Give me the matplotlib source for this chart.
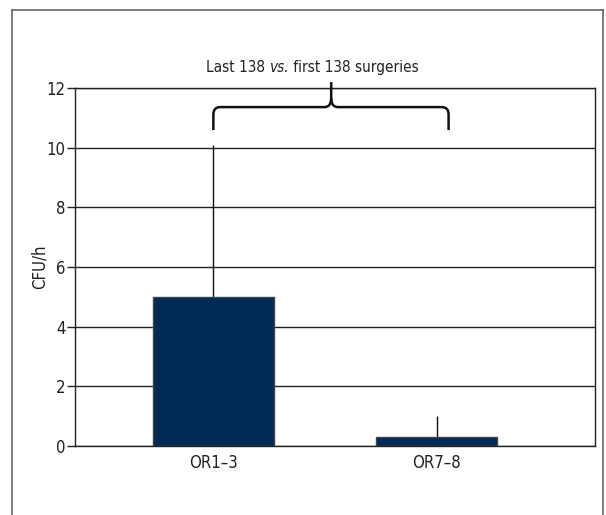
import matplotlib
matplotlib.use('Agg')
import matplotlib.pyplot as plt
from matplotlib import font_manager
from matplotlib.path import Path
from matplotlib.patches import PathPatch
from matplotlib.lines import Line2D

names = {f.name for f in font_manager.fontManager.ttflist}
cond = [n for n in ['Liberation Sans Narrow', 'DejaVu Sans Condensed'] if n in names]
plt.rcParams['font.family'] = cond + ['DejaVu Sans']
plt.rcParams['font.stretch'] = 'condensed'

# data
groups = ['OR1\u20133', 'OR7\u20138']
cfu = [5.0, 0.3]
err_upper = [5.1, 0.7]
yticks = [0, 2, 4, 6, 8, 10, 12]

fig = plt.figure(figsize=(6.06, 5.15), dpi=100)
ax = fig.add_axes([75/606, 1 - 446/515, 520/606, 358/515])

x = [0, 1]
ax.set_axisbelow(True)
ax.grid(axis='y', color='#222222', linewidth=1)
ax.bar(x, cfu, width=0.545, color='#022a57', edgecolor='#444444', linewidth=1, zorder=3)
ax.errorbar(x, cfu, yerr=[[0, 0], err_upper], fmt='none', ecolor='#111111',
            elinewidth=1, capsize=0, zorder=2)

ax.set_xlim(-0.62, 1.71)
ax.set_ylim(0, 12)
ax.set_yticks(yticks)
ax.set_xticks(x)
ax.set_xticklabels(groups)
ax.tick_params(axis='x', length=0, pad=6, labelsize=12, labelcolor='#222222')
ax.tick_params(axis='y', length=6, width=1, color='#222222', labelsize=12,
               labelcolor='#222222', pad=1)
for s in ax.spines.values():
    s.set_color('#222222')
    s.set_linewidth(1)
ax.set_ylabel('CFU/h', fontsize=12, color='#222222', labelpad=-2)

# curly brace over the bars
x0, x1, xm = 0.0, 1.054, 0.528
yb, yh, yt = 10.59, 11.36, 12.2
r = 0.03
verts = [(x0, yb), (x0, yh - 0.25), (x0, yh), (x0 + r, yh),
         (xm - r, yh), (xm, yh), (xm, yh + 0.3), (xm, yt)]
codes = [Path.MOVETO, Path.LINETO, Path.CURVE3, Path.CURVE3,
         Path.LINETO, Path.CURVE3, Path.CURVE3, Path.LINETO]
verts2 = [(x1, yb), (x1, yh - 0.25), (x1, yh), (x1 - r, yh),
          (xm + r, yh), (xm, yh), (xm, yh + 0.3)]
codes2 = [Path.MOVETO, Path.LINETO, Path.CURVE3, Path.CURVE3,
          Path.LINETO, Path.CURVE3, Path.CURVE3]
for v, c in [(verts, codes), (verts2, codes2)]:
    ax.add_patch(PathPatch(Path(v, c), facecolor='none', edgecolor='#111111',
                           linewidth=1.8, clip_on=False, zorder=5))

# title in three pieces so "vs." can be italic
ty = 12.42
tfs = 11
t1 = ax.text(0.0, ty, 'Last 138 ', ha='left', va='bottom', fontsize=tfs, color='#222222')
t2 = ax.text(0.0, ty, 'vs.', ha='left', va='bottom', fontsize=tfs, color='#222222',
             style='italic')
t3 = ax.text(0.0, ty, ' first 138 surgeries', ha='left', va='bottom', fontsize=tfs,
             color='#222222')
fig.canvas.draw()
rend = fig.canvas.get_renderer()
ws = [t.get_window_extent(rend).width for t in (t1, t2, t3)]
inv = ax.transData.inverted()
xc_px = ax.transData.transform((0.443, ty))[0]
start = xc_px - sum(ws) / 2
for t, w in zip((t1, t2, t3), ws):
    t.set_x(inv.transform((start, 0))[0])
    start += w

# outer frame of the figure
for xs, ys in [([12/606, 12/606], [0, 1 - 10/515]),
               ([12/606, 603/606], [1 - 10/515, 1 - 10/515]),
               ([603/606, 603/606], [0, 1 - 10/515])]:
    fig.add_artist(Line2D(xs, ys, color='#666666', linewidth=1.2))

fig.savefig('out.png', dpi=100)
